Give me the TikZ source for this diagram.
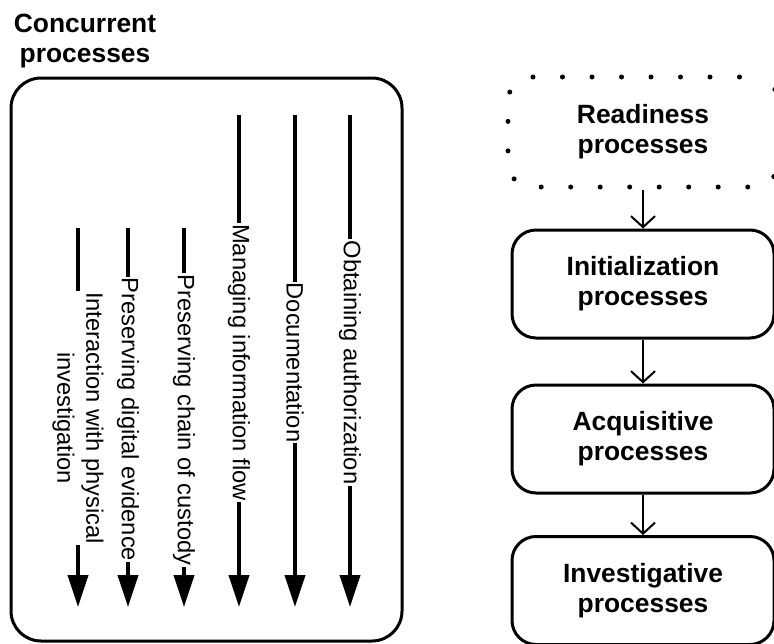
\documentclass[tikz,border=0pt]{standalone}
\usepackage{fontspec}
\setmainfont{Liberation Sans}
\usetikzlibrary{arrows.meta}

\begin{document}
\begin{tikzpicture}[x=1pt,y=-1pt,
    stage/.style={draw,line width=3pt,rounded corners=24pt,minimum width=262pt,minimum height=108pt,
      align=center,font=\fontsize{26.4}{30}\selectfont\bfseries},
    lab/.style={rotate=-90,inner sep=1pt,align=center,font=\fontsize{23.7}{29}\selectfont},
    flow/.style={line width=4pt},
    link/.style={line width=2pt,-{Straight Barb[length=11pt,width=24pt]}}]
  \useasboundingbox (0,0) rectangle (774,643);
  % concurrent processes
  \node[anchor=north,inner sep=0pt,align=center,font=\fontsize{26.4}{30}\selectfont\bfseries] (title) at (85,14) {Concurrent\\processes};
  \node[draw,line width=3pt,rounded corners=30pt,minimum width=391pt,minimum height=563pt] (conc) at (206.5,359.5) {};
  \foreach \px/\ptop/\pmid/\nm/\txt in {
      78/228/418/phys/Interaction with physical\\investigation,
      128/228/419.5/evid/Preserving digital evidence,
      184/228/420/cust/Preserving chain of custody,
      239/115/362.5/info/Managing information flow,
      295/115/362.5/docu/Documentation,
      350/115/362.5/auth/Obtaining authorization}{
    \node[lab] (\nm) at (\px,\pmid) {\txt};
    \coordinate (\nm-top) at (\px,\ptop);
    \coordinate (\nm-end) at (\px,607);
    \draw[flow] (\nm-top) -- (\nm);
    \draw[flow,-{Triangle[length=32pt,width=20pt]}] (\nm) -- (\nm-end);
  }
  % sequential processes
  \node[stage,dash pattern=on 0pt off 29.5pt,dash phase=15pt,line cap=round,line width=5pt,minimum width=270pt,minimum height=110pt] (ready) at (643,132) {Readiness\\processes};
  \node[stage] (init) at (643,284) {Initialization\\processes};
  \node[stage] (acq) at (643,439) {Acquisitive\\processes};
  \node[stage] (inv) at (643,590.5) {Investigative\\processes};
  \draw[link] (ready) -- (init);
  \draw[link] (init) -- (acq);
  \draw[link] (acq) -- (inv);
\end{tikzpicture}
\end{document}
